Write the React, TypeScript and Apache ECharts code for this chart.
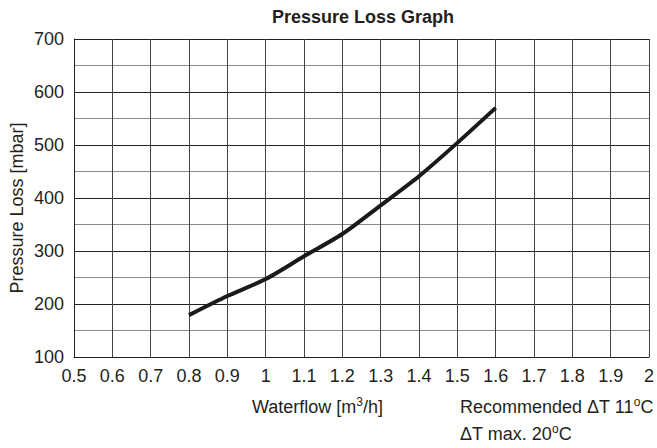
import React, { useEffect, useRef } from "react";
import * as echarts from "echarts";

const flowValues = [0.8, 0.9, 1.0, 1.1, 1.2, 1.3, 1.4, 1.5, 1.6];
const pressureValues = [179, 215, 247, 290, 332, 386, 441, 504, 570];
const titleText = "Pressure Loss Graph";
const yAxisName = "Pressure Loss [mbar]";

const TXT = "#231f20";
const FONT = "'Liberation Sans', Arial, sans-serif";

export default function App() {
  const ref = useRef<HTMLDivElement>(null);
  useEffect(() => {
    if (!ref.current) return;
    const chart = echarts.init(ref.current, undefined, { renderer: "svg" });
    const rich = {
      a: { fontSize: 18, fontFamily: FONT, color: TXT, lineHeight: 20, verticalAlign: "bottom" },
      s: { fontSize: 12, fontFamily: FONT, color: TXT, lineHeight: 20, verticalAlign: "top" },
    };
    chart.setOption({
      animation: false,
      backgroundColor: "#fff",
      textStyle: { fontFamily: FONT },
      title: {
        text: titleText,
        left: 358,
        textAlign: "center",
        top: 3,
        textStyle: { fontSize: 18, fontWeight: "bold", color: TXT, fontFamily: FONT },
      },
      grid: { left: 74, right: 6, top: 39, bottom: 91, containLabel: false },
      xAxis: {
        type: "value",
        min: 0.5,
        max: 2,
        interval: 0.1,
        axisLine: { show: true, lineStyle: { color: "#222", width: 1 } },
        axisTick: { show: false },
        axisLabel: {
          fontSize: 18,
          color: TXT,
          margin: 10,
          fontFamily: FONT,
          formatter: (v: number) => String(Number(v.toFixed(1))),
        },
        splitLine: { show: true, lineStyle: { color: "#444", width: 1 } },
      },
      yAxis: {
        type: "value",
        min: 100,
        max: 700,
        interval: 100,
        axisLine: { show: true, lineStyle: { color: "#222", width: 1 } },
        axisTick: { show: false },
        axisLabel: { fontSize: 18, color: TXT, margin: 10, fontFamily: FONT },
        splitLine: { show: true, lineStyle: { color: "#222", width: 1 } },
        minorTick: { show: false, splitNumber: 2 },
        minorSplitLine: { show: true, lineStyle: { color: "#8a8a8a", width: 1 } },
      },
      series: [
        {
          type: "line",
          data: flowValues.map((x, i) => [x, pressureValues[i]]),
          smooth: 0.25,
          showSymbol: false,
          lineStyle: { color: "#1a1a1a", width: 4, cap: "butt" },
        },
      ],
      graphic: [
        {
          type: "text",
          x: 17,
          y: 208,
          rotation: Math.PI / 2,
          style: {
            text: yAxisName,
            fill: TXT,
            fontSize: 18,
            fontFamily: FONT,
            align: "center",
            verticalAlign: "middle",
          },
        },
        {
          type: "text",
          left: 252,
          top: 396,
          style: { text: "{a|Waterflow [m}{s|3}{a|/h]}", fill: TXT, rich },
        },
        {
          type: "text",
          left: 460,
          top: 396,
          style: { text: "{a|Recommended ΔT 11}{s|o}{a|C}", fill: TXT, rich },
        },
        {
          type: "text",
          left: 460,
          top: 423,
          style: { text: "{a|ΔT max. 20}{s|o}{a|C}", fill: TXT, rich },
        },
      ],
    });
    return () => chart.dispose();
  }, []);
  return <div ref={ref} style={{ width: 657, height: 448, position: "absolute", left: 0, top: 0 }} />;
}
